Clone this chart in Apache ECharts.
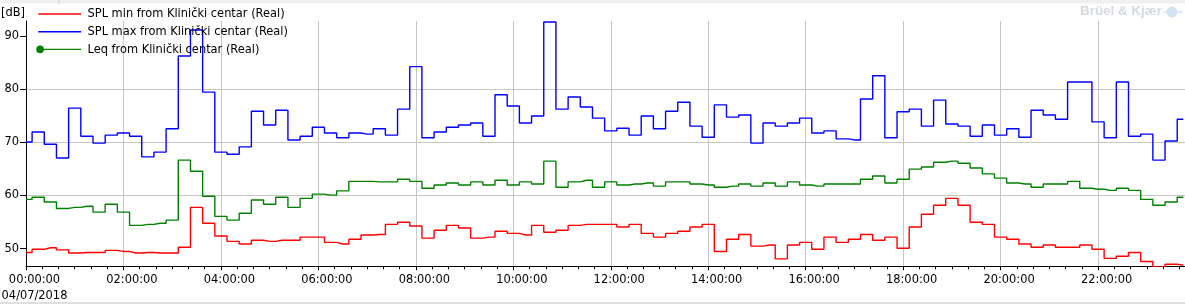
<!DOCTYPE html>
<html>
<head>
<meta charset="utf-8">
<script src="https://cdn.jsdelivr.net/npm/echarts@6/dist/echarts.min.js"></script>
<style>
html,body{margin:0;padding:0;background:#fff;}
#c{width:1185px;height:304px;}
</style>
</head>
<body>
<div id="c"></div>
<script>
// ---- data ----
const dateLabel = '04/07/2018';
const stepMinutes = 15; // sampling interval of the measurement
const tickLabels = ['00:00:00','02:00:00','04:00:00','06:00:00','08:00:00','10:00:00',
  '12:00:00','14:00:00','16:00:00','18:00:00','20:00:00','22:00:00'];
const unitLabel = '[dB]';
const seriesNames = ['SPL min from Klinički centar (Real)', 'SPL max from Klinički centar (Real)', 'Leq from Klinički centar (Real)'];

const splMin = [
  49.2, 49.8, 50.1, 49.7, 49.1, 49.2, 49.2, 49.6, 49.4, 49.1,
  49.2, 49.1, 49.1, 50.2, 57.7, 54.7, 52.3, 51.3, 50.8, 51.5,
  51.3, 51.5, 51.5, 52.1, 52.1, 51.1, 50.8, 51.7, 52.5, 52.6,
  54.5, 54.9, 54.2, 51.9, 53.4, 54.3, 53.8, 51.9, 52.1, 53.2,
  52.8, 52.5, 54.3, 53.0, 53.4, 54.3, 54.5, 54.5, 54.5, 54.0,
  54.5, 52.8, 52.1, 52.8, 53.2, 54.0, 54.5, 49.4, 51.7, 52.6,
  50.4, 50.6, 48.0, 50.6, 51.1, 49.8, 52.1, 51.1, 51.7, 52.6,
  51.5, 52.1, 50.0, 54.0, 56.4, 58.1, 59.4, 58.1, 54.9, 54.5,
  52.1, 51.7, 50.8, 50.2, 50.6, 50.2, 50.2, 50.6, 49.8, 48.1,
  48.5, 49.2, 47.5, 46.5, 47.0, 46.8
];
const splMax = [
  70.0, 71.9, 69.6, 67.0, 76.4, 71.1, 69.8, 71.3, 71.7, 71.1,
  67.2, 68.1, 72.5, 86.2, 91.1, 79.4, 68.1, 67.7, 69.1, 75.8,
  73.2, 76.0, 70.4, 71.1, 72.8, 71.7, 70.8, 71.7, 71.5, 72.5,
  71.3, 76.2, 84.2, 70.8, 71.9, 72.8, 73.2, 73.6, 71.1, 78.9,
  76.8, 73.6, 74.9, 92.6, 76.2, 78.5, 76.6, 74.5, 72.1, 72.6,
  71.3, 74.9, 72.5, 75.8, 77.5, 73.0, 70.9, 77.0, 74.7, 75.1,
  69.8, 73.6, 73.0, 73.6, 74.5, 71.7, 72.1, 70.6, 70.4, 78.1,
  82.5, 70.8, 75.7, 76.2, 73.0, 77.9, 73.4, 73.0, 71.1, 73.2,
  71.3, 72.5, 70.9, 76.0, 75.1, 74.3, 81.3, 81.3, 73.8, 70.8,
  81.3, 71.1, 71.5, 66.6, 70.2, 74.3
];
const leq = [
  59.2, 59.6, 58.7, 57.5, 57.7, 57.9, 56.8, 58.3, 56.8, 54.3,
  54.5, 54.7, 55.3, 66.6, 64.5, 59.8, 56.0, 55.3, 56.6, 59.1,
  58.3, 59.6, 57.7, 59.4, 60.2, 60.0, 60.8, 62.6, 62.6, 62.5,
  62.5, 63.0, 62.6, 61.3, 61.9, 62.3, 61.9, 62.5, 61.9, 62.8,
  61.9, 62.5, 62.1, 66.4, 61.5, 62.5, 62.8, 61.5, 62.5, 61.9,
  62.1, 62.3, 61.7, 62.5, 62.5, 62.1, 61.9, 61.5, 61.7, 62.1,
  61.7, 62.3, 61.7, 62.5, 61.9, 61.7, 62.1, 62.1, 62.1, 63.0,
  63.6, 62.3, 63.0, 64.9, 65.3, 66.2, 66.4, 66.0, 65.1, 64.0,
  63.2, 62.3, 62.1, 61.5, 62.1, 62.1, 62.6, 61.3, 61.1, 60.9,
  61.3, 60.9, 59.2, 58.1, 58.7, 59.6
];
// sample times (minutes after midnight)
const times = splMin.map((_, i) => i * stepMinutes);

// ---- chart ----
const FONT = "'DejaVu Sans Condensed', 'DejaVu Sans', sans-serif";
const FS = 12.7;
const pair = arr => arr.map((v, i) => [times[i], v]);
const chart = echarts.init(document.getElementById('c'), null, {renderer: 'canvas'});

// legend icons (44.7 x 7.6 box): plain line, and line with a round marker at its left end
const lineIcon = 'path://M0,0 L0.01,0 L0,0.01 Z M2,3.1 L44.7,3.1 L44.7,4.5 L2,4.5 Z M44.7,7.6 L44.69,7.6 L44.7,7.59 Z';
const leqIcon = 'path://M0,3.8 A3.8,3.8 0 1,1 7.6,3.8 A3.8,3.8 0 1,1 0,3.8 Z M7,3.1 L44.7,3.1 L44.7,4.5 L7,4.5 Z';

chart.setOption({
  animation: false,
  backgroundColor: '#fff',
  grid: {left: 26, top: 21, width: 1169.5, height: 245.3, containLabel: false, outerBoundsMode: 'none'},
  legend: {
    orient: 'vertical', left: 36.3, top: 7, padding: 0, itemGap: 3.7,
    itemWidth: 44.7, itemHeight: 7.6, selectedMode: false,
    textStyle: {fontFamily: FONT, fontSize: FS, color: '#000', lineHeight: 14, padding: [0, 0, 0, 1.5]},
    data: [
      {name: seriesNames[0], icon: lineIcon},
      {name: seriesNames[1], icon: lineIcon},
      {name: seriesNames[2], icon: leqIcon}
    ]
  },
  xAxis: {
    type: 'value', min: 0, max: 1440, interval: 120,
    axisLine: {lineStyle: {color: '#000', width: 1}},
    axisTick: {length: 4, lineStyle: {color: '#000'}},
    minorTick: {show: true, splitNumber: 6, length: 3, lineStyle: {color: '#000'}},
    splitLine: {show: true, showMinLine: false, lineStyle: {color: '#c6c6c6', width: 1}},
    axisLabel: {
      color: '#000', fontFamily: FONT, fontSize: FS, lineHeight: 16, margin: 5,
      padding: [0, 0, 0, 17], hideOverlap: false,
      formatter: function (v) {
        if (v % 120 !== 0) return '';
        const idx = v / 120;
        if (idx >= tickLabels.length) return '';
        return idx === 0 ? tickLabels[0] + '\n' + dateLabel : tickLabels[idx];
      }
    }
  },
  yAxis: {
    type: 'value', min: 46.6, max: 92.8, splitNumber: 5,
    axisLine: {show: true, lineStyle: {color: '#000', width: 1}},
    axisTick: {show: true, length: 6, lineStyle: {color: '#000'}, customValues: [50, 60, 70, 80, 90]},
    axisLabel: {showMinLabel: false, showMaxLabel: false, margin: 7, color: '#000', fontFamily: FONT, fontSize: FS},
    splitLine: {show: true, showMinLine: false, showMaxLine: false, lineStyle: {color: '#c6c6c6', width: 1}}
  },
  series: [
    {name: seriesNames[0], type: 'line', step: 'middle', symbol: 'none', color: '#ff0000',
     lineStyle: {width: 1.4, color: '#ff0000'}, data: pair(splMin), clip: true},
    {name: seriesNames[1], type: 'line', step: 'middle', symbol: 'none', color: '#0000ff',
     lineStyle: {width: 1.4, color: '#0000ff'}, data: pair(splMax), clip: true},
    {name: seriesNames[2], type: 'line', step: 'middle', symbol: 'none', color: '#008000',
     lineStyle: {width: 1.4, color: '#008000'}, data: pair(leq), clip: true}
  ],
  graphic: [
    {type: 'rect', left: 0, top: 0, shape: {width: 1185, height: 3.5}, style: {fill: '#f0f0f0'}, silent: true},
    {type: 'rect', left: 58.5, top: 0, shape: {width: 1, height: 3.5}, style: {fill: '#c8c8c8'}, silent: true},
    {type: 'rect', left: 0, top: 302.5, shape: {width: 1185, height: 1}, style: {fill: '#c0c0c0'}, silent: true},
    {type: 'text', left: 1, top: 6.5, style: {text: unitLabel, font: FS + "px " + FONT, fill: '#000'}, silent: true},
    {type: 'text', left: 1080, top: 5, style: {text: 'Brüel & Kjær', font: "bold 13.4px 'Liberation Sans', Arial, sans-serif", fill: '#d6dade'}, silent: true},
    {type: 'circle', shape: {cx: 1172, cy: 12, r: 5.5}, style: {fill: '#d3e3f3'}, silent: true},
    {type: 'rect', shape: {x: 1163, y: 11.3, width: 20, height: 1.4}, style: {fill: '#d3e3f3'}, silent: true}
  ]
});
</script>
</body>
</html>
